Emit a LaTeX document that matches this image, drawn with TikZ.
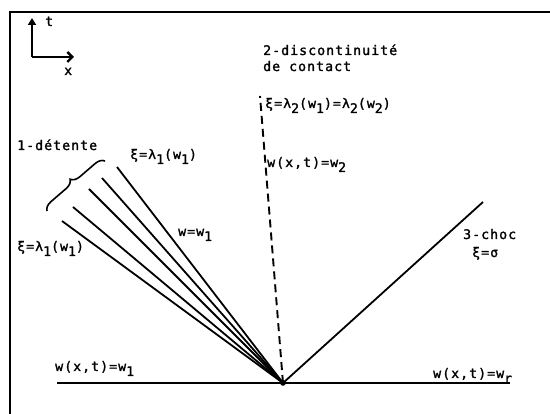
\documentclass[tikz,border=0pt]{standalone}
\usepackage{fontspec}
\usetikzlibrary{arrows.meta,decorations.pathreplacing}
\newfontfamily\tw[LetterSpace=8,FakeBold=1.5]{DejaVu Sans Mono}
\newcommand\lo[1]{\raisebox{-5pt}{#1}}
\begin{document}
\begin{tikzpicture}[x=1pt,y=-1pt,
  lbl/.style={inner sep=0pt, anchor=base west, font=\tw\fontsize{13.2}{15}\selectfont},
  ray/.style={line width=1.8pt},
  frame/.style={line width=2.2pt}]
\useasboundingbox (0,0) rectangle (550,414);
% frame
\coordinate (f2) at (550,12); \coordinate (f3) at (10,414);
\draw[frame] (f3) |- (f2);
% axes
\coordinate (ax0) at (32,57); \coordinate (axt) at (32,18); \coordinate (axx) at (74,57);
\draw[line width=2.4pt,-{Triangle[length=7pt,width=8pt]}] (ax0) -- (axt);
\draw[line width=2.4pt,-{Straight Barb[length=5pt,width=10pt]}] (ax0) -- (axx);
\node[lbl] (lt) at (45,26) {t};
\node[lbl] (lx) at (64,75) {x};
% origin and base line
\coordinate (O) at (283,383);
\coordinate (bl) at (57,383); \coordinate (br) at (510,383);
\draw[line width=1.9pt] (bl) -- (br);
\fill (O) circle (2.8);
% fan
\coordinate (r1) at (117,167);
\coordinate (r2) at (102,178);
\coordinate (r3) at (89,189);
\coordinate (r4) at (73,207);
\coordinate (r5) at (62,221);
\draw[ray] (O) -- (r1);
\draw[ray] (O) -- (r2);
\draw[ray] (O) -- (r3);
\draw[ray] (O) -- (r4);
\draw[ray] (O) -- (r5);
% brace
\coordinate (b1) at (47,211); \coordinate (b2) at (105,161);
\draw[line width=1.6pt,decorate,decoration={brace,amplitude=9pt}] (b1) -- (b2);
% contact discontinuity
\coordinate (c2) at (260,96);
\draw[line width=1.9pt,dash pattern=on 8pt off 5pt] (O) -- (c2);
% shock
\coordinate (s3) at (483,202);
\draw[ray] (O) -- (s3);
% labels
\node[lbl] (l2a) at (263,55) {2-discontinuité};
\node[lbl] (l2b) at (263,71) {de contact};
\node[lbl] (lxi2) at (265,108) {ξ=λ\lo{2}(w\lo{1})=λ\lo{2}(w\lo{2})};
\node[lbl] (lw2) at (267,167) {w(x,t)=w\lo{2}};
\node[lbl] (l1d) at (17,150) {1-détente};
\node[lbl] (lxi1a) at (130,159) {ξ=λ\lo{1}(w\lo{1})};
\node[lbl] (lww1) at (178,236) {w=w\lo{1}};
\node[lbl] (lxi1b) at (17,251) {ξ=λ\lo{1}(w\lo{1})};
\node[lbl] (l3c) at (463,239) {3-choc};
\node[lbl] (lsig) at (472,257) {ξ=σ};
\node[lbl] (lwl) at (55,371) {w(x,t)=w\lo{1}};
\node[lbl] (lwr) at (433,378) {w(x,t)=w\lo{r}};
\end{tikzpicture}
\end{document}
